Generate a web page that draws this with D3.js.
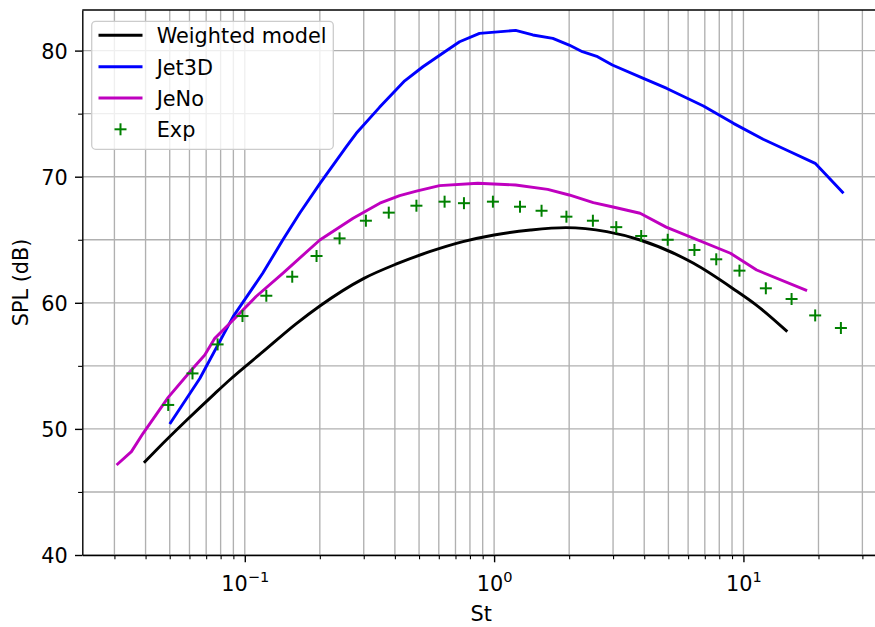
<!DOCTYPE html>
<html>
<head>
<meta charset="utf-8">
<script src="https://cdn.jsdelivr.net/npm/d3@7"></script>
<style>
  html, body { margin: 0; padding: 0; background: #fff; }
  svg { display: block; font-family: "DejaVu Sans", sans-serif; }
</style>
</head>
<body>
<svg id="chart" width="875" height="627"></svg>
<script>
// Weighted model (smooth prediction)
const wmSt  = [0.0394, 0.0443, 0.0584, 0.0758, 0.0871, 0.118, 0.161, 0.200, 0.298, 0.406, 0.551, 0.750, 1.00, 1.40, 1.94, 2.83, 3.85, 6.31, 9.12, 11.3, 15.0];
const wmSpl = [47.32, 48.35, 50.68, 52.8, 53.9, 56.1, 58.35, 59.75, 61.9, 63.08, 64.05, 64.85, 65.38, 65.77, 65.96, 65.64, 64.98, 63.13, 61.1, 59.8, 57.71];

// Jet3D
const jetSt  = [0.0500, 0.0660, 0.0898, 0.118, 0.142, 0.166, 0.200, 0.256, 0.280, 0.347, 0.438, 0.518, 0.643, 0.727, 0.874, 1.22, 1.43, 1.72, 2.00, 2.26, 2.60, 2.98, 3.97, 4.93, 6.91, 9.12, 12.0, 15.4, 19.4, 25.2];
const jetSpl = [50.39, 54.0, 58.9, 62.34, 64.98, 67.1, 69.45, 72.4, 73.44, 75.5, 77.6, 78.72, 79.99, 80.7, 81.37, 81.6, 81.24, 80.97, 80.44, 79.91, 79.52, 78.86, 77.8, 77.0, 75.61, 74.23, 72.97, 71.98, 71.06, 68.68];

// JeNo
const jenoSt  = [0.0306, 0.0351, 0.0391, 0.0493, 0.0611, 0.0691, 0.0758, 0.0898, 0.111, 0.142, 0.200, 0.272, 0.348, 0.418, 0.488, 0.604, 0.860, 1.22, 1.64, 2.00, 2.50, 3.00, 3.85, 4.90, 8.87, 11.3, 18.0];
const jenoSpl = [47.14, 48.2, 49.65, 52.5, 54.67, 55.86, 57.18, 58.64, 60.5, 62.34, 64.98, 66.7, 67.9, 68.5, 68.85, 69.29, 69.48, 69.34, 69.0, 68.55, 67.94, 67.6, 67.1, 66.0, 63.93, 62.6, 60.96];

// Experiment
const expSt  = [0.0493, 0.0617, 0.0778, 0.0979, 0.122, 0.155, 0.194, 0.240, 0.306, 0.378, 0.488, 0.633, 0.757, 0.989, 1.27, 1.55, 1.95, 2.49, 3.09, 3.89, 4.97, 6.36, 7.78, 9.64, 12.3, 15.6, 19.4, 24.6];
const expSpl = [51.9, 54.4, 56.7, 58.95, 60.56, 62.07, 63.71, 65.11, 66.51, 67.15, 67.7, 68.02, 67.9, 68.02, 67.62, 67.3, 66.83, 66.51, 66.0, 65.3, 65.0, 64.19, 63.45, 62.55, 61.15, 60.3, 59.0, 58.0];

// Axis ticks
const xMajorTicks = [0.1, 1, 10];
const xMajorExp   = ["−1", "0", "1"];
const yMajorTicks = [40, 50, 60, 70, 80];
const yMinorTicks = [45, 55, 65, 75];

const seriesNames = ["Weighted model", "Jet3D", "JeNo", "Exp"];
const seriesColors = ["#000000", "#0000ff", "#bf00bf", "#008000"];

const svg = d3.select("#chart");
const FS = 20.8;
const LW = 2.9;
const box = { left: 82.3, right: 880, top: 10, bottom: 555 };

const x = d3.scaleLog().domain([0.0223, 35.3]).range([box.left, box.right]);
const y = d3.scaleLinear().domain([40, 83.22]).range([box.bottom, box.top]);

// minor x positions: 2..9 in each decade
const xMinorTicks = [];
[0.01, 0.1, 1, 10].forEach(d => {
  for (let k = 2; k <= 9; k++) {
    const v = +(k * d).toPrecision(3);
    if (v >= x.domain()[0] && v <= x.domain()[1]) xMinorTicks.push(v);
  }
});

const gridColor = "#b0b0b0";
const grid = svg.append("g");
grid.selectAll("line.gx").data(xMajorTicks.concat(xMinorTicks)).join("line")
  .attr("x1", d => x(d)).attr("x2", d => x(d))
  .attr("y1", box.top).attr("y2", box.bottom)
  .attr("stroke", gridColor).attr("stroke-width", 1.35);
grid.selectAll("line.gy").data(yMajorTicks.concat(yMinorTicks)).join("line")
  .attr("x1", box.left).attr("x2", box.right)
  .attr("y1", d => y(d)).attr("y2", d => y(d))
  .attr("stroke", gridColor).attr("stroke-width", 1.35);

// lines
const zip = (a, b) => a.map((v, i) => [v, b[i]]);
const lineLin = d3.line().x(d => x(d[0])).y(d => y(d[1]));
const lineSmooth = d3.line().x(d => x(d[0])).y(d => y(d[1])).curve(d3.curveMonotoneX);

const plotG = svg.append("g");
plotG.append("path").datum(zip(wmSt, wmSpl)).attr("d", lineSmooth)
  .attr("fill", "none").attr("stroke", seriesColors[0]).attr("stroke-width", LW);
plotG.append("path").datum(zip(jetSt, jetSpl)).attr("d", lineLin)
  .attr("fill", "none").attr("stroke", seriesColors[1]).attr("stroke-width", LW)
  .attr("stroke-linejoin", "round");
plotG.append("path").datum(zip(jenoSt, jenoSpl)).attr("d", lineLin)
  .attr("fill", "none").attr("stroke", seriesColors[2]).attr("stroke-width", LW)
  .attr("stroke-linejoin", "round");

const plus = (g, s) => {
  g.append("line").attr("x1", -s).attr("x2", s).attr("y1", 0).attr("y2", 0);
  g.append("line").attr("x1", 0).attr("x2", 0).attr("y1", -s).attr("y2", s);
};
plotG.selectAll("g.exp").data(zip(expSt, expSpl)).join("g")
  .attr("transform", d => `translate(${x(d[0])},${y(d[1])})`)
  .attr("stroke", seriesColors[3]).attr("stroke-width", 2)
  .each(function () { plus(d3.select(this), 6); });

// axes
const styleAxis = g => {
  g.attr("font-family", null).attr("font-size", null);
  g.selectAll("line").attr("stroke", "#000").attr("stroke-width", 1.4);
  g.selectAll("path.domain").attr("stroke", "#000").attr("stroke-width", 1.4);
};

const xAxisMinor = svg.append("g").attr("transform", `translate(0,${box.bottom})`)
  .call(d3.axisBottom(x).tickValues(xMinorTicks).tickSize(4.2).tickFormat(""));
xAxisMinor.select("path.domain").remove();
styleAxis(xAxisMinor);
xAxisMinor.selectAll("line").attr("stroke-width", 1.1);

const xAxis = svg.append("g").attr("transform", `translate(0,${box.bottom})`)
  .call(d3.axisBottom(x).tickValues(xMajorTicks).tickSize(7.3).tickSizeOuter(0).tickFormat(""));
styleAxis(xAxis);
xAxis.selectAll(".tick").each(function (d, i) {
  const t = d3.select(this).append("text")
    .attr("y", 36).attr("fill", "#000").attr("text-anchor", "middle")
    .attr("font-size", FS);
  t.append("tspan").text("10");
  t.append("tspan").attr("dy", -9).attr("font-size", FS * 0.7).text(xMajorExp[i]);
});

const yAxisMinor = svg.append("g").attr("transform", `translate(${box.left},0)`)
  .call(d3.axisLeft(y).tickValues(yMinorTicks).tickSize(4.2).tickFormat(""));
yAxisMinor.select("path.domain").remove();
styleAxis(yAxisMinor);
yAxisMinor.selectAll("line").attr("stroke-width", 1.1);

const yAxis = svg.append("g").attr("transform", `translate(${box.left},0)`)
  .call(d3.axisLeft(y).tickValues(yMajorTicks).tickSize(7.3).tickSizeOuter(0).tickPadding(7.3));
styleAxis(yAxis);
yAxis.selectAll("text").attr("font-size", FS).attr("fill", "#000").attr("dy", "0.36em");

// top spine
svg.append("line").attr("x1", box.left).attr("x2", box.right)
  .attr("y1", box.top).attr("y2", box.top).attr("stroke", "#000").attr("stroke-width", 1.4);

// axis labels
svg.append("text").attr("x", (box.left + box.right) / 2).attr("y", 621)
  .attr("text-anchor", "middle").attr("font-size", FS).text("St");
svg.append("text").attr("transform", `translate(28,${(box.top + box.bottom) / 2}) rotate(-90)`)
  .attr("text-anchor", "middle").attr("font-size", FS).text("SPL (dB)");

// legend
const leg = svg.append("g");
leg.append("rect").attr("x", 91.7).attr("y", 21.3).attr("width", 241.6).attr("height", 128)
  .attr("rx", 4).attr("fill", "#fff").attr("fill-opacity", 0.8)
  .attr("stroke", "#cccccc").attr("stroke-width", 1.3);
const rowY = [35.3, 66.8, 98.0, 129.3];
seriesNames.forEach((name, i) => {
  const gy = rowY[i];
  if (i < 3) {
    leg.append("line").attr("x1", 98.5).attr("x2", 142.5).attr("y1", gy).attr("y2", gy)
      .attr("stroke", seriesColors[i]).attr("stroke-width", LW);
  } else {
    const g = leg.append("g").attr("transform", `translate(120.5,${gy})`)
      .attr("stroke", seriesColors[i]).attr("stroke-width", 2);
    plus(g, 6);
  }
  leg.append("text").attr("x", 156.7).attr("y", gy + 8)
    .attr("font-size", FS).attr("fill", "#000").text(name);
});
</script>
</body>
</html>
